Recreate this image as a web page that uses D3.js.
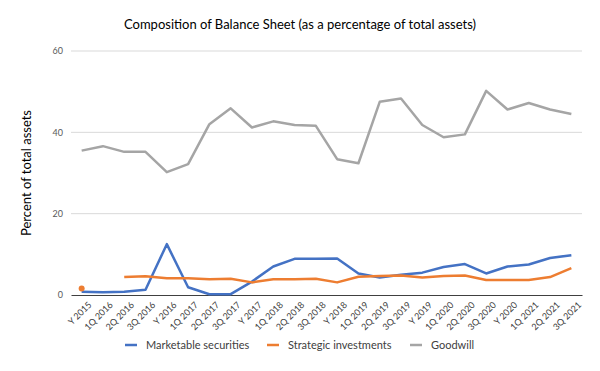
<!DOCTYPE html>
<html><head><meta charset="utf-8">
<script src="https://cdn.jsdelivr.net/npm/d3@7"></script>
<style>body{margin:0;background:#fff}svg{display:block}</style>
</head><body>
<svg id="c" width="600" height="371"></svg>
<script>
const categories = ["Y 2015","1Q 2016","2Q 2016","3Q 2016","Y 2016","1Q 2017","2Q 2017","3Q 2017","Y 2017","1Q 2018","2Q 2018","3Q 2018","Y 2018","1Q 2019","2Q 2019","3Q 2019","Y 2019","1Q 2020","2Q 2020","3Q 2020","Y 2020","1Q 2021","2Q 2021","3Q 2021"];
const marketable = [0.8,0.7,0.8,1.3,12.5,1.9,0.2,0.2,3.3,7.0,8.9,8.9,9.0,5.3,4.3,5.0,5.5,6.9,7.6,5.3,7.0,7.5,9.1,9.8];
const strategic = [1.6,null,4.4,4.6,4.1,4.1,3.9,4.0,3.1,3.9,3.9,4.0,3.1,4.5,4.7,4.8,4.3,4.7,4.8,3.7,3.7,3.7,4.4,6.6];
const goodwill = [35.5,36.6,35.2,35.2,30.2,32.2,42.0,45.9,41.2,42.7,41.8,41.6,33.4,32.4,47.5,48.3,41.8,38.8,39.5,50.2,45.6,47.2,45.6,44.5];
const yTicks = [0,20,40,60];
const seriesNames = ["Marketable securities","Strategic investments","Goodwill"];
const colors = ["#4472C4","#ED7D31","#A5A5A5"];

const svg = d3.select("#c");
const font = "Lato, 'Open Sans', sans-serif";
const L = 71, R = 582, T = 51, B = 295;
const x = d3.scaleBand().domain(categories).range([L, R]);
const y = d3.scaleLinear().domain([0, 60]).range([B, T]);

// gridlines
svg.append("g").selectAll("line").data(yTicks.filter(d => d > 0)).join("line")
  .attr("x1", L).attr("x2", R).attr("y1", d => y(d)).attr("y2", d => y(d))
  .attr("stroke", "#d9d9d9").attr("stroke-width", 1);

// y axis labels
const yAxis = svg.append("g").attr("transform", `translate(${L},0)`)
  .call(d3.axisLeft(y).tickValues(yTicks).tickSize(0).tickPadding(8));
yAxis.select(".domain").remove();
yAxis.selectAll("text").attr("font-family", font).attr("font-size", 9).attr("fill", "#595959");

// x axis
const xAxis = svg.append("g").attr("transform", `translate(0,${B})`)
  .call(d3.axisBottom(x).tickSize(0).tickPadding(6));
xAxis.select(".domain").attr("stroke", "#404040").attr("stroke-width", 1.2);
xAxis.selectAll("text").attr("font-family", font).attr("font-size", 9).attr("fill", "#404040")
  .attr("text-anchor", "end").attr("dy", "0.35em")
  .attr("transform", "translate(4,4) rotate(-45)");

// lines
const data = [marketable, strategic, goodwill];
const line = d3.line()
  .defined(d => d != null)
  .x((d, i) => x(categories[i]) + x.bandwidth() / 2)
  .y(d => y(d));
data.forEach((vals, k) => {
  svg.append("path").datum(vals).attr("d", line)
    .attr("fill", "none").attr("stroke", colors[k]).attr("stroke-width", 2.5)
    .attr("stroke-linejoin", "round");
  vals.forEach((v, i) => {
    if (v != null && (i === 0 || vals[i-1] == null) && (i === vals.length-1 || vals[i+1] == null)) {
      svg.append("circle").attr("cx", x(categories[i]) + x.bandwidth()/2).attr("cy", y(v))
        .attr("r", 3).attr("fill", colors[k]);
    }
  });
});

// title
svg.append("text").attr("x", 300).attr("y", 29).attr("text-anchor", "middle")
  .attr("font-family", font).attr("font-size", 13).attr("fill", "#000")
  .text("Composition of Balance Sheet (as a percentage of total assets)");

// y title
svg.append("text").attr("transform", `translate(31,${(T+B)/2}) rotate(-90)`)
  .attr("text-anchor", "middle").attr("font-family", font).attr("font-size", 13).attr("fill", "#000")
  .text("Percent of total assets");

// legend
const legX = [125, 267, 410];
const leg = svg.append("g");
seriesNames.forEach((n, k) => {
  leg.append("line").attr("x1", legX[k]).attr("x2", legX[k] + 12).attr("y1", 345).attr("y2", 345)
    .attr("stroke", colors[k]).attr("stroke-width", 2.5);
  leg.append("text").attr("x", legX[k] + 21).attr("y", 345).attr("dy", "0.35em")
    .attr("font-family", font).attr("font-size", 11).attr("fill", "#404040").text(n);
});
</script>
</body></html>
